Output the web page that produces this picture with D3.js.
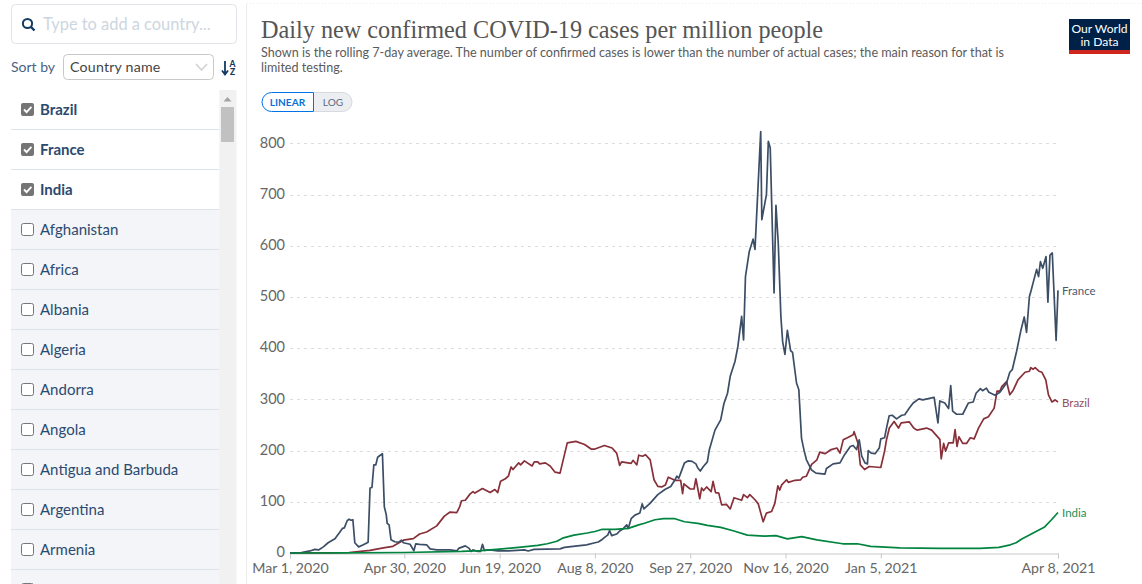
<!DOCTYPE html>
<html><head><meta charset="utf-8">
<script src="https://cdn.jsdelivr.net/npm/d3@7"></script>
<style>html,body{margin:0;padding:0;background:#fff;overflow:hidden}svg{display:block}text{font-family:Lato,sans-serif}</style>
</head><body><svg id="c" width="1142" height="584"></svg>
<script>
const titleText = "Daily new confirmed COVID-19 cases per million people";
const subtitleLines = ["Shown is the rolling 7-day average. The number of confirmed cases is lower than the number of actual cases; the main reason for that is","limited testing."];
const checkedCountries = ["Brazil","France","India"];
const otherCountries = ["Afghanistan","Africa","Albania","Algeria","Andorra","Angola","Antigua and Barbuda","Argentina","Armenia",""];
const yTicks = [0,100,200,300,400,500,600,700,800];
const xTickOffsets = [0,60,110,160,210,260,310,403];
const startDate = new Date(2020,2,1);

// days since Mar 1, 2020 / cases per million
const franceDays = [0,6,10.5,13,15,17.5,20,23.6,26,27.5,28.5,30,31,32,33,34,36,38.5,41,42,43,44,45,46,47,48.5,49.5,50.5,51,52,53,55,57,58.5,59.5,63,65,66,68,71.7,73.5,77,84,87.5,88.5,92,94,95,96,98.6,100,101,102,105,109,114.6,119,123,125,128,141.7,144,148.6,155.6,160,161.8,164,165.6,166.7,167.7,168.8,171.4,173,175,176.7,177.5,179,181,183.6,184.8,185.7,188.9,193,196.7,199.8,202,203,204,205,207,209,211,213,214,215.3,216.9,219,220,223,226,227.7,229.6,231,233.5,235,237,238,239,241,243,244,247,247.6,250,251,252,254,255,256.2,257.6,258.5,259.7,261,262.7,263.7,265.8,267,268.4,269.7,271,273.7,276,280.7,281.5,285,288.6,291,294,295.5,297.3,298.7,300,301.7,303,303.4,305,307,309.2,310,312,313,314.4,316,318.3,321,322.6,325,327,330,332,338,340,341,343.6,345.6,346.7,347.7,349.8,353,356,358.5,360,362.3,363.4,365.4,366.7,370,372.5,376,377.7,379,381.3,383.4,385.3,386.5,388,389,391.8,392.8,393.8,395,396.7,397.7,398.8,400,402,403];
const franceVals = [0,1,4,7,6,12,20,28,40,48,49,63,66,64,65,20,12,16,21,127,128,172,172,187,190,194,90,75,58,55,26,22,21,25,20,17,4.5,18,17,16,8,6,6,4,9,14,9,3,6,3,3,17,5,6,4,4,5,6,4,7,8,11,13,16,20,21.5,27,32,35,44,34,37,43,48,55,48,67,74,78,96,86,97,114,124,130,143,150,146,156,176,180,179,174,166,160,169,178,201,240,260,292,312,345,374,403,462,416,540,589,613,593,823,651,700,804,791,508,679,605,462,413,388,435,395,392,332,319,224,201,182,162,156,154,165,174,176,192,208,210,202,221,189,176,174,200,195,194,205,223,225,244,268,269,262,269,270,283,293,301,299,304,254,297,293,282,327,277,271,271,293,295,312,321,317,322,314,308,314,332,353,358,394,433,461,431,501,514,554,540,569,556,579,490,582,586,415,513];

const brazilDays = [0,20,31,42,49,54,59.5,64.7,68,71.7,77,81,84,87.5,89,90,92,94.4,96,97,101,105,107.5,109,110.5,113,114.6,116,117,120,121,123,127,128.2,130,131,134,136.5,139,141.7,145.5,150,154.6,158,160,165,169,171.4,173,174,179,180,182,183,185,186.6,189,191,193,195,197,198.5,202,205,206,206.7,210,212,213,215,216,217,218.6,221,222,223.3,225,226.5,229,231,233,237,238,240,241.3,244,245.7,248.3,250,252.7,254.4,256,257,258,260.6,261.5,265,268,269,271,273.7,276.5,278,280.7,284,287,288.6,290.3,293,295.5,296,298,299.3,301.5,303.9,310,312,313,314.5,317,319.3,320.7,325,327.3,329,334,336.7,341,341.7,343,344,345.6,348,349,350,351,353,355,357,359,361.3,364,366.5,369.5,371,372.5,373.5,376,377.7,379.5,382,385.7,388,388.7,390,391,393,394.6,396.6,398,399.8,401.5,403];
const brazilVals = [0,0.2,1,5,10,13,25,28,37,41,53,72,80,79,90,102,103,115,120,117,126,118,124,118,140,145,150,168,163,176,172,180,170,178,178,174,176,170,158,156,215,218,212,203,203,210,205,195,171,178,175,181,172,191,189,192,182,143,130,129,133,148,142,142,116,135,125,125,145,106,127,122,129,120,140,118,117,94,95,86,108,103,114,108,114,104,96,61,78,81,97,131,123,133,143,138,142,143,148,150,173,182,197,194,202,205,195,221,226,231,237,215,172,163,169,167,199,221,244,257,244,254,256,244,240,244,240,222,184,214,199,215,215,241,208,227,214,214,225,223,244,262,266,283,316,316,325,335,309,318,338,353,355,362,359,362,355,353,338,309,295,299,295];

const indiaDays = [0,30,60,90,100,110,120,130,135,140,143,149,156,160,163.5,170.6,177.5,183,186,191.5,196,202,207,214,219,226,233,240,249,255,261,268.5,276.5,290,297.7,304.7,310,320,341,362,372,378,381,384,388,391.7,394,396,399.6,403];
const indiaVals = [0,0.1,1,3,4.5,7.5,11,15,18,23,29,35,39,42,46,46,48,55,58,65,67,67,61,58,54,50,43,35,33,34,27.5,32,25.5,18,18,13,12,10,9,9,11,16,20,27.5,35,42.5,47,51,65,79];

const seriesList = [
  {name:"Brazil",days:brazilDays,vals:brazilVals,color:"#883039",label:"#96505a"},
  {name:"France",days:franceDays,vals:franceVals,color:"#3c4e66",label:"#4a5a70"},
  {name:"India",days:indiaDays,vals:indiaVals,color:"#00843f",label:"#1c8f52"}
];

const svg = d3.select("#c");
const dateOf = d => d3.timeHour.offset(startDate, Math.round(d*24));
const x = d3.scaleTime().domain([startDate, dateOf(403)]).range([290,1058]);
const y = d3.scaleLinear().domain([0,800]).range([553,143.4]);

/* ---------- sidebar ---------- */
const side = svg.append("g");
side.append("rect").attr("x",11.5).attr("y",4.5).attr("width",225).attr("height",39).attr("rx",4).attr("fill","#fff").attr("stroke","#e0e3e8");
side.append("circle").attr("cx",27.5).attr("cy",23.5).attr("r",4.6).attr("fill","none").attr("stroke","#123a63").attr("stroke-width",2);
side.append("line").attr("x1",31).attr("y1",27).attr("x2",34.5).attr("y2",30.5).attr("stroke","#123a63").attr("stroke-width",2.4);
side.append("text").attr("x",43).attr("y",30).attr("font-size",16.4).attr("fill","#cdd6e0").text("Type to add a country...");
side.append("text").attr("x",11).attr("y",72).attr("font-size",14).attr("fill","#4a6285").text("Sort by");
side.append("rect").attr("x",63.5).attr("y",54.5).attr("width",150).attr("height",25).attr("rx",4).attr("fill","#fff").attr("stroke","#c8c8c8");
side.append("text").attr("x",70).attr("y",72).attr("font-size",14.2).attr("fill","#444").attr("letter-spacing",0.2).text("Country name");
side.append("path").attr("d","M196 64l5.5 6 5.5-6").attr("fill","none").attr("stroke","#d4d4d4").attr("stroke-width",1.8);
side.append("path").attr("d","M225 61v13M222 70.500l3 4 3-4").attr("fill","none").attr("stroke","#123a63").attr("stroke-width",1.8);
side.append("text").attr("x",232.500).attr("y",67).attr("text-anchor","middle").attr("font-size",8.5).attr("font-weight",900).attr("fill","#123a63").text("A");
side.append("text").attr("x",232.500).attr("y",75).attr("text-anchor","middle").attr("font-size",8.5).attr("font-weight",900).attr("fill","#123a63").text("Z");

const rows = checkedCountries.map(n=>({n,c:true})).concat(otherCountries.map(n=>({n,c:false})));
const rowH = 40, rowTop = 90;
side.append("rect").attr("x",11).attr("y",rowTop).attr("width",225).attr("height",494).attr("fill","#f3f5f8");
const rg = side.selectAll("g.r").data(rows).join("g").attr("class","r").attr("transform",(d,i)=>`translate(0,${rowTop+i*rowH})`);
rg.append("rect").attr("x",11).attr("y",0).attr("width",208.5).attr("height",rowH-1).attr("fill",d=>d.c?"#fff":"#f3f5f8");
rg.append("line").attr("x1",11).attr("x2",219.5).attr("y1",rowH-.5).attr("y2",rowH-.5).attr("stroke","#dde3ea");
rg.append("rect").attr("x",d=>d.c?21:21.5).attr("y",d=>d.c?13:13.5).attr("width",d=>d.c?13:12).attr("height",d=>d.c?13:12).attr("rx",2)
  .attr("fill",d=>d.c?"#757575":"#fff").attr("stroke",d=>d.c?"none":"#767676");
rg.filter(d=>d.c).append("path").attr("d","M24 19.5l2.6 2.6 4.8-5.2").attr("fill","none").attr("stroke","#fff").attr("stroke-width",1.9);
rg.append("text").attr("x",40).attr("y",25).attr("font-size",15).attr("font-weight",d=>d.c?700:400).attr("fill","#2c4a70").text(d=>d.n);
side.append("rect").attr("x",219.5).attr("y",90).attr("width",17).attr("height",494).attr("fill","#f1f1f1");
side.append("rect").attr("x",221).attr("y",107).attr("width",13).attr("height",35).attr("fill","#c1c1c1");
side.append("path").attr("d","M227.5 97l4 4.5h-8z").attr("fill","#a3a3a3");

/* ---------- panel ---------- */
svg.append("line").attr("x1",246.5).attr("x2",246.5).attr("y1",4).attr("y2",584).attr("stroke","#ececec");
svg.append("line").attr("x1",247).attr("x2",1142).attr("y1",3.5).attr("y2",3.5).attr("stroke","#efefef").attr("stroke-dasharray","1 2");
svg.append("text").attr("x",261).attr("y",38).attr("font-size",24.5).attr("fill","#555").attr("textLength",562).attr("lengthAdjust","spacingAndGlyphs").style("font-family","'Liberation Serif',serif").text(titleText);
svg.selectAll("text.sub").data(subtitleLines).join("text").attr("class","sub").attr("x",261).attr("y",(d,i)=>56.500+i*15).attr("font-size",12.6).attr("fill","#5b5b5b").text(d=>d);

const logo = svg.append("g");
logo.append("rect").attr("x",1069).attr("y",19).attr("width",61).attr("height",35).attr("fill","#002147");
logo.append("rect").attr("x",1069).attr("y",50).attr("width",61).attr("height",4).attr("fill","#ce261e");
logo.append("text").attr("x",1099.5).attr("y",33).attr("text-anchor","middle").attr("font-size",12.1).attr("fill","#fff").text("Our World");
logo.append("text").attr("x",1099.5).attr("y",46).attr("text-anchor","middle").attr("font-size",12.1).attr("fill","#fff").text("in Data");

svg.append("path").attr("d","M313.5 92.5h29a9.500 9.500 0 0 1 0 19h-29z").attr("fill","#eceef1").attr("stroke","#d6d9de");
svg.append("path").attr("d","M313.5 92.5h-42a9.500 9.500 0 0 0 0 19h42z").attr("fill","#fff").attr("stroke","#0073e6");
svg.append("text").attr("x",287.500).attr("y",106).attr("text-anchor","middle").attr("font-size",10.100).attr("font-weight",700).attr("fill","#0a70d8").text("LINEAR");
svg.append("text").attr("x",333).attr("y",106).attr("text-anchor","middle").attr("font-size",10.100).attr("fill","#5b6b80").text("LOG");

/* ---------- axes ---------- */
const yAxis = d3.axisLeft(y).tickValues(yTicks).tickSize(0).tickPadding(5);
const yg = svg.append("g").attr("transform","translate(290,-1)").call(yAxis);
yg.select(".domain").remove();
yg.selectAll("text").attr("font-size",14.500).attr("fill","#666").style("font-family","Lato,sans-serif");
svg.append("g").selectAll("line").data(yTicks.filter(d=>d>0)).join("line")
  .attr("x1",290).attr("x2",1058).attr("y1",d=>Math.round(y(d))+.5).attr("y2",d=>Math.round(y(d))+.5)
  .attr("stroke","#dcdcdc").attr("stroke-dasharray","3 4");

const fmt = d3.timeFormat("%b %-d, %Y");
const xAxis = d3.axisBottom(x).tickValues(xTickOffsets.map(dateOf)).tickFormat(fmt).tickSize(5).tickPadding(4);
const xg = svg.append("g").attr("transform","translate(0,553.5)").call(xAxis);
xg.select(".domain").attr("stroke","#c8c8c8");
xg.selectAll("line").attr("stroke","#c8c8c8");
xg.selectAll("text").attr("font-size",14.2).attr("fill","#666").style("font-family","Lato,sans-serif");

/* ---------- lines ---------- */
const line = d3.line().x(d=>x(dateOf(d[0]))).y(d=>y(d[1]));
const plot = svg.append("g");
seriesList.forEach(s=>{
  const pts = s.days.map((d,i)=>[d,s.vals[i]]);
  plot.append("path").datum(pts).attr("d",line).attr("fill","none").attr("stroke",s.color).attr("stroke-width",1.7).attr("stroke-linejoin","round");
  const last = pts[pts.length-1];
  plot.append("text").attr("x",x(dateOf(last[0]))+4).attr("y",y(last[1])+1).attr("dy","0.32em").attr("font-size",11.5).attr("fill",s.label).text(s.name);
});
</script></body></html>
